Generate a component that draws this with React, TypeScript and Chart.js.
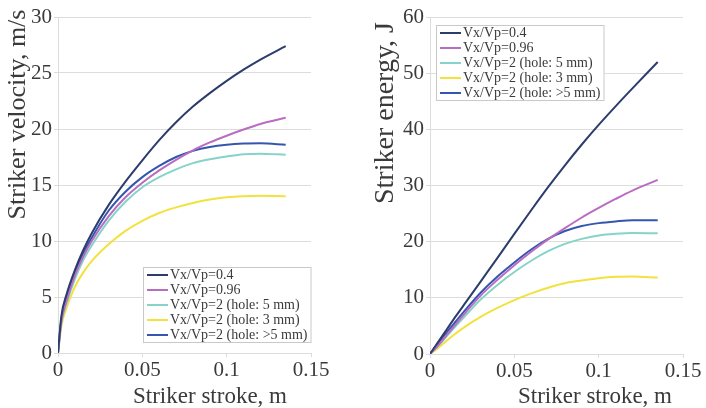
import React, { useEffect, useRef } from "react";
import { Chart, registerables } from "chart.js";

Chart.register(...registerables);

// ---------- data ----------
const strokeM = [0, 0.002, 0.005, 0.01, 0.015, 0.02, 0.03, 0.04, 0.05, 0.06, 0.07, 0.08, 0.09, 0.1, 0.11, 0.12, 0.135];

const seriesLabels = [
  "Vx/Vp=0.4",
  "Vx/Vp=0.96",
  "Vx/Vp=2 (hole: 5 mm)",
  "Vx/Vp=2 (hole: 3 mm)",
  "Vx/Vp=2 (hole: >5 mm)",
];
const seriesColors = ["#2c3d6c", "#b96dc1", "#86d3c9", "#f1e23e", "#3456b1"];

// striker velocity, m/s
const velocity04 = [0, 3.3, 5.2, 7.4, 9.2, 10.7, 13.2, 15.3, 17.2, 19.0, 20.6, 22.0, 23.2, 24.3, 25.3, 26.2, 27.4];
const velocity096 = [0, 2.8, 4.6, 6.9, 8.6, 10.0, 12.2, 13.9, 15.2, 16.3, 17.25, 18.1, 18.8, 19.4, 19.95, 20.45, 21.0];
const velocityHole5 = [0, 2.7, 4.4, 6.6, 8.3, 9.6, 11.8, 13.5, 14.8, 15.7, 16.4, 16.95, 17.3, 17.55, 17.75, 17.8, 17.7];
const velocityHole3 = [0, 2.4, 4.0, 5.9, 7.2, 8.2, 9.7, 10.9, 11.8, 12.5, 13.0, 13.4, 13.7, 13.9, 14.0, 14.05, 14.0];
const velocityHoleGt5 = [0, 3.0, 4.9, 7.1, 8.9, 10.3, 12.7, 14.4, 15.7, 16.7, 17.5, 18.05, 18.4, 18.6, 18.7, 18.72, 18.6];

// striker energy, J
const energy04 = [0, 0.9, 2.2, 4.4, 6.6, 8.7, 12.9, 17.1, 21.4, 25.6, 29.7, 33.6, 37.3, 40.8, 44.1, 47.3, 52.0];
const energy096 = [0, 0.6, 1.6, 3.4, 5.2, 7.0, 10.4, 13.2, 15.8, 18.2, 20.4, 22.4, 24.3, 26.0, 27.6, 29.1, 31.0];
const energyHole5 = [0, 0.6, 1.5, 3.2, 4.9, 6.5, 9.7, 12.3, 14.6, 16.6, 18.3, 19.6, 20.5, 21.1, 21.4, 21.55, 21.5];
const energyHole3 = [0, 0.4, 1.1, 2.4, 3.6, 4.7, 6.6, 8.2, 9.6, 10.8, 11.8, 12.6, 13.1, 13.5, 13.75, 13.8, 13.6];
const energyHoleGt5 = [0, 0.8, 2.0, 3.9, 5.7, 7.5, 10.9, 13.8, 16.3, 18.6, 20.5, 21.9, 22.8, 23.3, 23.6, 23.8, 23.8];

const xTicks = [0, 0.05, 0.1, 0.15];
const xTickLabels = ["0", "0.05", "0.1", "0.15"];
const velocityTicks = [0, 5, 10, 15, 20, 25, 30];
const energyTicks = [0, 10, 20, 30, 40, 50, 60];

const xTitle = "Striker stroke, m";
const velocityTitle = "Striker velocity, m/s";
const energyTitle = "Striker energy, J";

// ---------- styling ----------
const FONT = "'Liberation Serif', 'Times New Roman', serif";
const TEXT = "#3a3a3a";
const GRID = "#dcdcd8";

const overlayPlugin = {
  id: "overlay",
  afterDraw(chart: any, _args: any, opts: any) {
    const ctx = chart.ctx as CanvasRenderingContext2D;
    ctx.save();
    ctx.fillStyle = TEXT;
    // x title
    ctx.font = `${opts.xTitleSize}px ${FONT}`;
    ctx.textAlign = "center";
    ctx.textBaseline = "alphabetic";
    ctx.fillText(opts.xTitle, opts.xTitleX, opts.xTitleY);
    // y title
    ctx.save();
    ctx.translate(opts.yTitleX, opts.yTitleY);
    ctx.rotate(-Math.PI / 2);
    ctx.font = `${opts.yTitleSize}px ${FONT}`;
    ctx.fillText(opts.yTitle, 0, 0);
    ctx.restore();

    // legend box
    const ds = chart.data.datasets;
    ctx.font = `14px ${FONT}`;
    let maxW = 0;
    ds.forEach((d: any) => {
      maxW = Math.max(maxW, ctx.measureText(d.label).width);
    });
    const lx = opts.legendX;
    const ly = opts.legendY;
    const rowH = 15;
    const w = 4 + 21 + 2 + maxW + 4;
    const h = ds.length * rowH + 1;
    ctx.fillStyle = "#ffffff";
    ctx.fillRect(lx, ly, w, h);
    ctx.strokeStyle = "#c9c9c6";
    ctx.lineWidth = 1;
    ctx.strokeRect(lx + 0.5, ly + 0.5, w - 1, h - 1);
    ds.forEach((d: any, i: number) => {
      const cy = ly + 8 + rowH * i;
      ctx.strokeStyle = d.borderColor;
      ctx.lineWidth = 2;
      ctx.beginPath();
      ctx.moveTo(lx + 4, cy);
      ctx.lineTo(lx + 25, cy);
      ctx.stroke();
      ctx.fillStyle = TEXT;
      ctx.textAlign = "left";
      ctx.textBaseline = "middle";
      ctx.fillText(d.label, lx + 27, cy + 0.5);
    });
    ctx.restore();
  },
};

type PanelProps = {
  left: number;
  series: number[][];
  yTicks: number[];
  yMax: number;
  yScaleWidth: number;
  paddingRight: number;
  xScaleHeight: number;
  overlay: any;
};

function Panel(p: PanelProps) {
  const ref = useRef<HTMLCanvasElement | null>(null);
  useEffect(() => {
    if (!ref.current) return;
    const datasets = p.series.map((vals, i) => ({
      label: seriesLabels[i],
      data: strokeM.map((x, j) => ({ x, y: vals[j] })),
      borderColor: seriesColors[i],
      backgroundColor: seriesColors[i],
      borderWidth: 2,
      pointRadius: 0,
      fill: false,
      cubicInterpolationMode: "monotone" as const,
    }));
    const chart = new Chart(ref.current, {
      type: "line",
      data: { datasets },
      plugins: [overlayPlugin],
      options: {
        animation: false,
        responsive: false,
        devicePixelRatio: 1,
        layout: { padding: { top: 17, right: p.paddingRight, left: 0, bottom: 0 } },
        plugins: {
          legend: { display: false },
          tooltip: { enabled: false },
          title: { display: false },
          overlay: p.overlay,
        } as any,
        scales: {
          x: {
            type: "linear",
            min: 0,
            max: 0.15,
            afterBuildTicks: (scale: any) => {
              scale.ticks = xTicks.map((v) => ({ value: v }));
            },
            afterFit: (scale: any) => {
              scale.height = p.xScaleHeight;
            },
            ticks: {
              font: { family: FONT, size: 21 },
              color: TEXT,
              padding: 1,
              maxRotation: 0,
              callback: (v: any) => {
                const k = xTicks.findIndex((t) => Math.abs(t - v) < 1e-9);
                return k >= 0 ? xTickLabels[k] : "";
              },
            },
            grid: { display: true, drawOnChartArea: false, drawTicks: true, tickLength: 4, color: GRID },
            border: { display: true, color: GRID },
          },
          y: {
            type: "linear",
            min: 0,
            max: p.yMax,
            afterBuildTicks: (scale: any) => {
              scale.ticks = p.yTicks.map((v) => ({ value: v }));
            },
            afterFit: (scale: any) => {
              scale.width = p.yScaleWidth;
            },
            ticks: {
              font: { family: FONT, size: 21 },
              color: TEXT,
              padding: 2,
              callback: (v: any) => String(v),
            },
            grid: { color: GRID, tickLength: 4, drawTicks: true },
            border: { display: true, color: GRID },
          },
        },
      } as any,
    });
    return () => chart.destroy();
  }, []);
  return (
    <canvas
      ref={ref}
      width={353}
      height={408}
      style={{ position: "absolute", left: p.left, top: 0, width: 353, height: 408 }}
    />
  );
}

export default function App() {
  return (
    <div style={{ position: "absolute", left: 0, top: 0, width: 706, height: 408, background: "#fff" }}>
      <Panel
        left={0}
        series={[velocity04, velocity096, velocityHole5, velocityHole3, velocityHoleGt5]}
        yTicks={velocityTicks}
        yMax={30}
        yScaleWidth={58}
        paddingRight={42}
        xScaleHeight={55}
        overlay={{
          xTitle,
          xTitleSize: 23,
          xTitleX: 210,
          xTitleY: 403,
          yTitle: velocityTitle,
          yTitleSize: 26,
          yTitleX: 25,
          yTitleY: 114.5,
          legendX: 143,
          legendY: 267,
        }}
      />
      <Panel
        left={353}
        series={[energy04, energy096, energyHole5, energyHole3, energyHoleGt5]}
        yTicks={energyTicks}
        yMax={60}
        yScaleWidth={77}
        paddingRight={23}
        xScaleHeight={54}
        overlay={{
          xTitle,
          xTitleSize: 23,
          xTitleX: 242,
          xTitleY: 403,
          yTitle: energyTitle,
          yTitleSize: 28,
          yTitleX: 40,
          yTitleY: 113,
          legendX: 83,
          legendY: 25,
        }}
      />
    </div>
  );
}
